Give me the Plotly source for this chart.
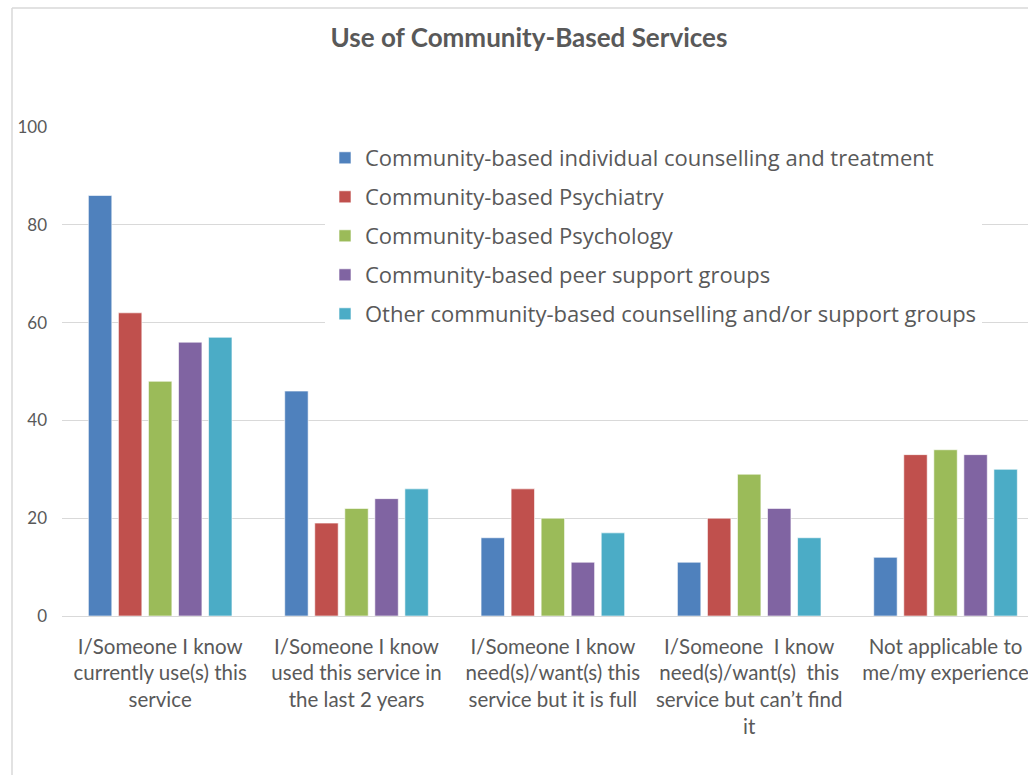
import plotly.graph_objects as go

categories = [
    "I/Someone I know<br>currently use(s) this<br>service",
    "I/Someone I know<br>used this service in<br>the last 2 years",
    "I/Someone I know<br>need(s)/want(s) this<br>service but it is full",
    "I/Someone  I know<br>need(s)/want(s)  this<br>service but can\u2019t find<br>it",
    "Not applicable to<br>me/my experience",
]
series_names = [
    "Community-based individual counselling and treatment",
    "Community-based Psychiatry",
    "Community-based Psychology",
    "Community-based peer support groups",
    "Other community-based counselling and/or support groups",
]
individual = [86, 46, 16, 11, 12]
psychiatry = [62, 19, 26, 20, 33]
psychology = [48, 22, 20, 29, 34]
peer = [56, 24, 11, 22, 33]
other = [57, 26, 17, 16, 30]
y_ticks = [0, 20, 40, 60, 80, 100]

colors = ["#4F81BD", "#C0504D", "#9BBB59", "#8064A2", "#4BACC6"]
values = [individual, psychiatry, psychology, peer, other]

FONT = "Lato"
LEG_FONT = "Open Sans"
GRAY = "#595959"

fig = go.Figure()
for i, (name, vals) in enumerate(zip(series_names, values)):
    fig.add_trace(go.Bar(
        x=list(range(len(categories))), y=vals, name=name,
        marker=dict(color=colors[i], line=dict(color="rgba(255,255,255,0.6)", width=1)),
        legendgroup=f"g{i}",
    ))

W, H = 1028, 775
ml, mr, mt, mb = 62, 0, 127, 159
pw, ph = W - ml - mr, H - mt - mb

def px_x(x):
    return (x - ml) / pw

def px_y(y):
    return (H - mb - y) / ph

fig.update_layout(
    width=W, height=H,
    margin=dict(l=ml, r=mr, t=mt, b=mb, autoexpand=False),
    paper_bgcolor="white", plot_bgcolor="white",
    barmode="group", bargap=0.235, bargroupgap=0.22,
    font=dict(family=FONT, color=GRAY),
    title=dict(text="<b>Use of Community-Based Services</b>",
               x=529 / W, xanchor="center", xref="container",
               y=1 - 38 / H, yanchor="middle", yref="container",
               font=dict(size=26, color=GRAY, family=FONT)),
    xaxis=dict(
        tickmode="array", tickvals=list(range(len(categories))), ticktext=categories,
        range=[-0.5, 4.42], showgrid=False, zeroline=False,
        showline=True, linecolor="#D9D9D9", linewidth=1,
        tickfont=dict(size=20.5, color=GRAY, family=FONT), ticks="",
        ticklabelstandoff=12, ticklabeloverflow="allow",
    ),
    yaxis=dict(
        range=[0, 100], tickvals=y_ticks, showgrid=True, gridcolor="#D9D9D9",
        gridwidth=1, zeroline=False, showline=False,
        tickfont=dict(size=17, color=GRAY, family=FONT), ticks="",
        ticklabelstandoff=14,
    ),
    legend=dict(
        x=px_x(325), y=px_y(137), xanchor="left", yanchor="top",
        bgcolor="white", font=dict(size=22, color=GRAY, family=LEG_FONT),
        tracegroupgap=7.4, itemwidth=30, traceorder="grouped",
    ),
    shapes=[
        dict(type="line", xref="paper", yref="paper",
             x0=px_x(12), x1=px_x(12), y0=px_y(775), y1=px_y(8),
             line=dict(color="#D9D9D9", width=1.5)),
        dict(type="line", xref="paper", yref="paper",
             x0=px_x(12), x1=px_x(1028), y0=px_y(8), y1=px_y(8),
             line=dict(color="#D9D9D9", width=1.5)),
    ],
)

fig.write_html("out.html")
